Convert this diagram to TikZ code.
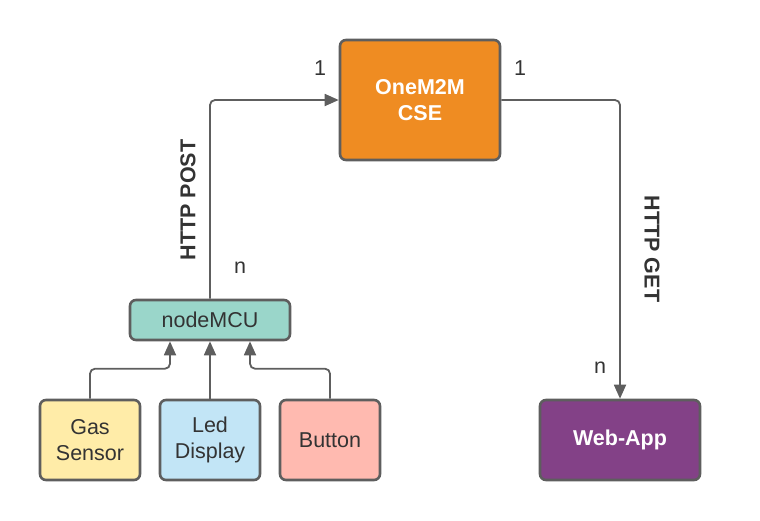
\documentclass[tikz,border=0pt]{standalone}
\usepackage{fontspec}
\setmainfont{Liberation Sans}
\usetikzlibrary{arrows.meta}
\definecolor{lineg}{HTML}{5E5E5E}
\definecolor{txtg}{HTML}{333333}
\definecolor{cseor}{HTML}{EF8C22}
\definecolor{mcuteal}{HTML}{9AD6CA}
\definecolor{gasyel}{HTML}{FFECA8}
\definecolor{ledblue}{HTML}{C2E5F6}
\definecolor{btnpink}{HTML}{FFBAB0}
\definecolor{webpur}{HTML}{834187}
\tikzstyle{arr}=[-{Triangle[length=14pt,width=12pt]},draw=lineg,line width=1.8pt,rounded corners=5pt]
\tikzstyle{blk}=[draw=lineg,line width=2.6pt,rounded corners=6pt,
  inner sep=0pt,align=center,font=\fontsize{21.5}{26}\selectfont,text=txtg]
\tikzstyle{lbl}=[font=\fontsize{21.5}{24}\selectfont,text=txtg]
\tikzstyle{hlbl}=[font=\fontsize{21.5}{24}\selectfont\bfseries,text=txtg]

\begin{document}
\begin{tikzpicture}[x=1pt,y=-1pt]
\useasboundingbox (0,0) rectangle (760,520);
\tikzset{big/.style={blk,minimum width=160pt,minimum height=120pt},
  dev/.style={blk,minimum width=100pt,minimum height=80pt}}
\node[big,fill=cseor,text=white,font=\fontsize{21.5}{26}\selectfont\bfseries] (cse) at (420,100) {OneM2M\\CSE};
\node[blk,fill=mcuteal,minimum width=160pt,minimum height=40pt] (mcu) at (210,320) {nodeMCU};
\node[dev,fill=gasyel] (gas) at (90,440) {Gas\\Sensor};
\node[dev,fill=ledblue] (led) at (210,440) {Led\\Display};
\node[dev,fill=btnpink] (btn) at (330,440) {Button};
\node[big,minimum height=80pt,fill=webpur,text=white,font=\fontsize{21.5}{26}\selectfont\bfseries] (web) at (620,440) {Web-App};
% connectors
\draw[arr] (mcu.north) |- (cse.west);
\draw[arr] (cse.east) -| (web.north);
\draw[arr] (gas.north) -- ++(0,-30) -| ([xshift=-40pt]mcu.south);
\draw[arr] (led.north) -- (mcu.south);
\draw[arr] (btn.north) -- ++(0,-30) -| ([xshift=40pt]mcu.south);
% labels
\node[lbl] (one1) at (320,68) {1};
\node[lbl] (one2) at (520,68) {1};
\node[lbl] (n1) at (240,268) {n};
\node[lbl] (n2) at (600,368) {n};
\node[hlbl,rotate=90] (post) at (188,200) {HTTP POST};
\node[hlbl,rotate=-90] (get) at (652,249) {HTTP GET};
\end{tikzpicture}
\end{document}
